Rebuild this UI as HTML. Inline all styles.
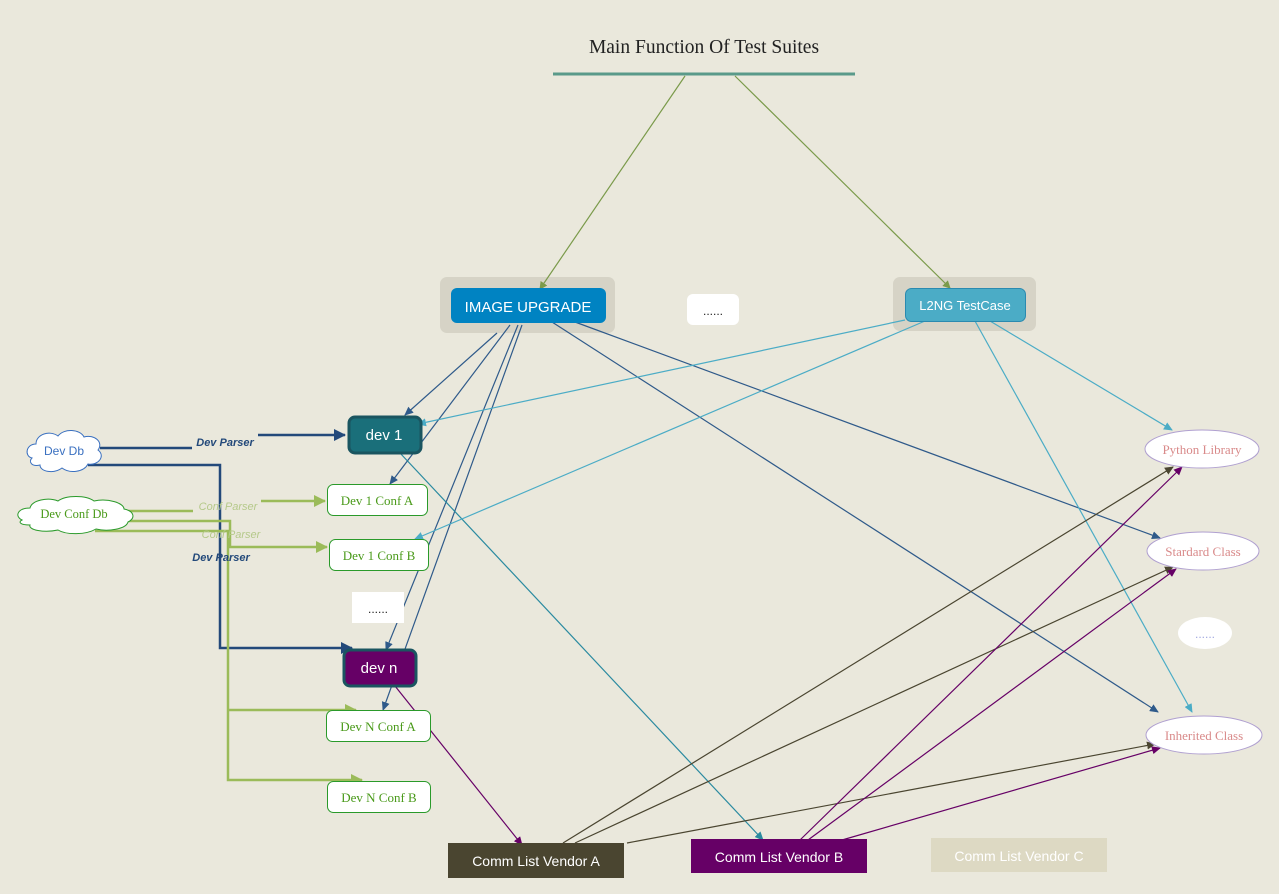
<!DOCTYPE html>
<html><head><meta charset="utf-8"><style>
html,body{margin:0;padding:0;background:#eae8dc;}
svg{display:block}
</style></head><body>
<svg width="1279" height="894" viewBox="0 0 1279 894" xmlns="http://www.w3.org/2000/svg" font-family="Liberation Sans, sans-serif">
<defs>
<marker id="mg" markerWidth="8" markerHeight="8" refX="7" refY="4" orient="auto" markerUnits="userSpaceOnUse"><path d="M0,0 L8,4 L0,8 z" fill="#7a9a4a"/></marker>
<marker id="mb" markerWidth="9" markerHeight="8" refX="8" refY="4" orient="auto" markerUnits="userSpaceOnUse"><path d="M0,0 L9,4 L0,8 z" fill="#2f5a8a"/></marker>
<marker id="mB" markerWidth="12" markerHeight="12" refX="11" refY="6" orient="auto" markerUnits="userSpaceOnUse"><path d="M0,0 L12,6 L0,12 z" fill="#23497a"/></marker>
<marker id="mG" markerWidth="12" markerHeight="12" refX="11" refY="6" orient="auto" markerUnits="userSpaceOnUse"><path d="M0,0 L12,6 L0,12 z" fill="#9bbb59"/></marker>
<marker id="mc" markerWidth="9" markerHeight="8" refX="8" refY="4" orient="auto" markerUnits="userSpaceOnUse"><path d="M0,0 L9,4 L0,8 z" fill="#4bacc6"/></marker>
<marker id="mt" markerWidth="9" markerHeight="8" refX="8" refY="4" orient="auto" markerUnits="userSpaceOnUse"><path d="M0,0 L9,4 L0,8 z" fill="#2a8aa0"/></marker>
<marker id="mp" markerWidth="9" markerHeight="8" refX="8" refY="4" orient="auto" markerUnits="userSpaceOnUse"><path d="M0,0 L9,4 L0,8 z" fill="#660066"/></marker>
<marker id="mo" markerWidth="9" markerHeight="8" refX="8" refY="4" orient="auto" markerUnits="userSpaceOnUse"><path d="M0,0 L9,4 L0,8 z" fill="#4a4530"/></marker>
</defs>

<text x="704" y="53" text-anchor="middle" font-family="Liberation Serif, serif" font-size="19.5" fill="#222">Main Function Of Test Suites</text>
<rect x="553" y="72.5" width="302" height="3" fill="#5a9a8a"/>

<!-- groups -->
<rect x="440" y="277" width="175" height="56" rx="7" fill="#d6d3c6"/>
<rect x="893" y="277" width="143" height="54" rx="7" fill="#d6d3c6"/>
<rect x="687" y="294" width="52" height="31" rx="6" fill="#fff"/>
<text x="713" y="315" text-anchor="middle" font-size="12" fill="#222">......</text>

<line x1="685" y1="76" x2="540" y2="289" stroke="#7a9a4a" stroke-width="1.2" marker-end="url(#mg)"/>
<line x1="735" y1="76" x2="950" y2="288" stroke="#7a9a4a" stroke-width="1.2" marker-end="url(#mg)"/>

<!-- image upgrade lines -->
<g stroke="#2f5a8a" stroke-width="1.2" fill="none">
<line x1="497" y1="333" x2="405" y2="415" marker-end="url(#mb)"/>
<line x1="510" y1="325" x2="390" y2="484" marker-end="url(#mb)"/>
<line x1="518" y1="325" x2="386" y2="650" marker-end="url(#mb)"/>
<line x1="522" y1="325" x2="383" y2="710" marker-end="url(#mb)"/>
<line x1="575" y1="322" x2="1160" y2="538" marker-end="url(#mb)"/>
<line x1="552" y1="322" x2="1158" y2="712" marker-end="url(#mb)"/>
</g>
<line x1="400" y1="453" x2="763" y2="840" stroke="#2a8aa0" stroke-width="1.2" marker-end="url(#mt)"/>
<g stroke="#4bacc6" stroke-width="1.2" fill="none">
<line x1="905" y1="320" x2="418" y2="424" marker-end="url(#mc)"/>
<line x1="925" y1="321" x2="415" y2="539" marker-end="url(#mc)"/>
<line x1="975" y1="321" x2="1192" y2="712" marker-end="url(#mc)"/>
<line x1="990" y1="321" x2="1172" y2="430" marker-end="url(#mc)"/>
</g>
<line x1="395" y1="686" x2="522" y2="845" stroke="#660066" stroke-width="1.2" marker-end="url(#mp)"/>
<g stroke="#4a4530" stroke-width="1.2">
<line x1="563" y1="843" x2="1173" y2="467" marker-end="url(#mo)"/>
<line x1="575" y1="843" x2="1173" y2="567" marker-end="url(#mo)"/>
<line x1="627" y1="843" x2="1155" y2="744" marker-end="url(#mo)"/>
</g>
<g stroke="#660066" stroke-width="1.2">
<line x1="800" y1="840" x2="1182" y2="467" marker-end="url(#mp)"/>
<line x1="808" y1="840" x2="1176" y2="569" marker-end="url(#mp)"/>
<line x1="842" y1="840" x2="1160" y2="748" marker-end="url(#mp)"/>
</g>

<!-- buttons -->
<rect x="451" y="288" width="155" height="35" rx="6" fill="#0083c2"/>
<text x="528" y="312" text-anchor="middle" font-size="15" fill="#fff">IMAGE UPGRADE</text>
<rect x="905.5" y="288.5" width="120" height="33" rx="6" fill="#4bacc6" stroke="#2a8ab0"/>
<text x="965" y="310" text-anchor="middle" font-size="13" fill="#fff">L2NG TestCase</text>

<!-- parser connectors -->
<g fill="none" stroke="#23497a" stroke-width="2.5">
<polyline points="100,448 192,448"/>
<polyline points="258,435 345,435" marker-end="url(#mB)"/>
<polyline points="88,465 220,465 220,648 352,648" marker-end="url(#mB)"/>
</g>
<g fill="none" stroke="#9bbb59" stroke-width="2.5">
<polyline points="127,511 193,511"/>
<polyline points="261,501 325,501" marker-end="url(#mG)"/>
<polyline points="127,521 230,521 230,547 327,547" marker-end="url(#mG)"/>
<polyline points="95,531 228,531 228,780 362,780" marker-end="url(#mG)"/>
<polyline points="228,710 356,710" marker-end="url(#mG)"/>
</g>
<text x="225" y="446" text-anchor="middle" font-size="11" font-weight="bold" font-style="italic" fill="#23497a">Dev Parser</text>
<text x="221" y="561" text-anchor="middle" font-size="11" font-weight="bold" font-style="italic" fill="#23497a">Dev Parser</text>
<text x="228" y="510" text-anchor="middle" font-size="11" font-style="italic" fill="#b5c98a">Conf Parser</text>
<text x="231" y="538" text-anchor="middle" font-size="11" font-style="italic" fill="#b5c98a">Conf Parser</text>

<!-- clouds -->
<path d="M32,458 C24,456 26,444 36,444 C36,434 50,430 58,436 C64,428 80,429 84,437 C94,434 104,442 98,450 C106,456 98,466 88,464 C84,472 70,474 62,468 C54,474 40,472 40,465 C32,467 28,462 32,458 Z" fill="#fff" stroke="#3a70c0" stroke-width="1"/>
<text x="64" y="455" text-anchor="middle" font-size="12" fill="#3a70c0">Dev  Db</text>
<path d="M22,520 C14,516 18,508 30,508 C32,500 48,497 58,501 C66,495 86,495 94,501 C108,498 124,503 124,509 C134,511 136,518 128,522 C126,529 108,532 96,529 C86,535 66,535 58,530 C44,533 28,530 30,525 C20,525 18,522 22,520 Z" fill="#fff" stroke="#2a9a2a" stroke-width="1"/>
<text x="74" y="518" text-anchor="middle" font-family="Liberation Serif, serif" font-size="12.5" fill="#4a9a1a">Dev Conf Db</text>

<!-- dev nodes -->
<rect x="349" y="417" width="72" height="36" rx="6" fill="#1a6f7a" stroke="#1a5560" stroke-width="3"/>
<text x="384" y="440" text-anchor="middle" font-size="15" fill="#fff">dev 1</text>
<rect x="344" y="650" width="72" height="36" rx="6" fill="#660066" stroke="#1a5560" stroke-width="3"/>
<text x="379" y="673" text-anchor="middle" font-size="15" fill="#fff">dev n</text>
<g fill="#fff" stroke="#2a9a2a" stroke-width="1">
<rect x="327.5" y="484.5" width="100" height="31" rx="6"/>
<rect x="329.5" y="539.5" width="99" height="31" rx="6"/>
<rect x="326.5" y="710.5" width="104" height="31" rx="6"/>
<rect x="327.5" y="781.5" width="103" height="31" rx="6"/>
</g>
<g font-family="Liberation Serif, serif" font-size="13" fill="#4a9a1a" text-anchor="middle">
<text x="377" y="505">Dev 1 Conf A</text>
<text x="379" y="560">Dev 1 Conf B</text>
<text x="378" y="731">Dev N Conf A</text>
<text x="379" y="802">Dev N Conf B</text>
</g>
<rect x="352" y="592" width="52" height="31" fill="#fff"/>
<text x="378" y="613" text-anchor="middle" font-size="12" fill="#222">......</text>

<!-- right ellipses -->
<g fill="#fff" stroke="#b0a0d0" stroke-width="1">
<ellipse cx="1202" cy="449" rx="57" ry="19"/>
<ellipse cx="1203" cy="551" rx="56" ry="19"/>
<ellipse cx="1204" cy="735" rx="58" ry="19"/>
</g>
<ellipse cx="1205" cy="633" rx="27" ry="16" fill="#fff"/>
<g font-family="Liberation Serif, serif" font-size="13" fill="#d98a8a" text-anchor="middle">
<text x="1202" y="454">Python Library</text>
<text x="1203" y="556">Stardard Class</text>
<text x="1204" y="740">Inherited Class</text>
</g>
<text x="1205" y="638" text-anchor="middle" font-size="12" fill="#a0a8e0">......</text>

<!-- vendors -->
<rect x="448" y="843" width="176" height="35" fill="#4a4530"/>
<text x="536" y="866" text-anchor="middle" font-size="14" fill="#fff">Comm List Vendor A</text>
<rect x="691" y="839" width="176" height="34" fill="#660066"/>
<text x="779" y="862" text-anchor="middle" font-size="14" fill="#fff">Comm List Vendor B</text>
<rect x="931" y="838" width="176" height="34" fill="#ddd9c3"/>
<text x="1019" y="861" text-anchor="middle" font-size="14" fill="#fff">Comm List Vendor C</text>
</svg>
</body></html>
